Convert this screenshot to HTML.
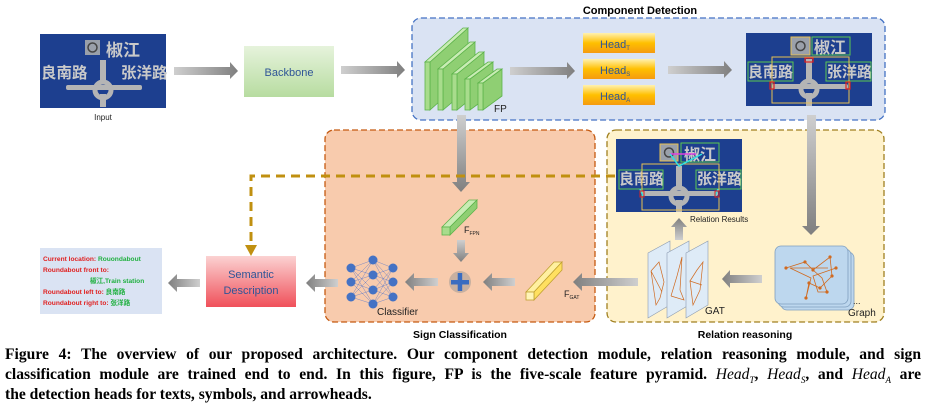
<!DOCTYPE html>
<html><head><meta charset="utf-8"><style>
html,body{margin:0;padding:0;background:#fff;}
svg{display:block;}
.cap{position:absolute;left:5px;width:916px;font-family:"Liberation Serif",serif;font-weight:bold;font-size:15.6px;color:#000;white-space:nowrap;}
.j{text-align:justify;text-align-last:justify;}
</style></head><body>
<div style="position:relative;width:926px;height:407px;overflow:hidden;">
<svg width="926" height="407" viewBox="0 0 926 407" xmlns="http://www.w3.org/2000/svg" style="position:absolute;left:0;top:0;font-family:'Liberation Sans','Noto Sans CJK SC',sans-serif;">
<defs>
<linearGradient id="gh" x1="0" y1="0" x2="1" y2="0"><stop offset="0" stop-color="#cfcfcf"/><stop offset="1" stop-color="#7f7f7f"/></linearGradient>
<linearGradient id="ghl" x1="1" y1="0" x2="0" y2="0"><stop offset="0" stop-color="#cfcfcf"/><stop offset="1" stop-color="#7f7f7f"/></linearGradient>
<linearGradient id="gv" x1="0" y1="0" x2="0" y2="1"><stop offset="0" stop-color="#cfcfcf"/><stop offset="1" stop-color="#7f7f7f"/></linearGradient>
<linearGradient id="gvu" x1="0" y1="1" x2="0" y2="0"><stop offset="0" stop-color="#cfcfcf"/><stop offset="1" stop-color="#7f7f7f"/></linearGradient>
<linearGradient id="gbb" x1="0" y1="0" x2="0" y2="1"><stop offset="0" stop-color="#e6f3dc"/><stop offset="1" stop-color="#b7dca0"/></linearGradient>
<linearGradient id="ghd" x1="0" y1="0" x2="0" y2="1"><stop offset="0" stop-color="#fff2b0"/><stop offset="0.5" stop-color="#ffc000"/><stop offset="1" stop-color="#f59a10"/></linearGradient>
<linearGradient id="gsd" x1="0" y1="0" x2="0" y2="1"><stop offset="0" stop-color="#fbd2d2"/><stop offset="1" stop-color="#f0505a"/></linearGradient>
</defs>

<rect x="412" y="18" width="473" height="102" rx="9" fill="#dae3f3" stroke="#4472c4" stroke-width="1.3" stroke-dasharray="6,3"/>
<rect x="325" y="130" width="270" height="192" rx="9" fill="#f8cbad" stroke="#c55a11" stroke-width="1.3" stroke-dasharray="6,3"/>
<rect x="607" y="130" width="277" height="192" rx="9" fill="#fff2cc" stroke="#a08020" stroke-width="1.3" stroke-dasharray="6,3"/>
<text x="640" y="14" font-size="11" font-weight="bold" text-anchor="middle">Component Detection</text>
<text x="460" y="338" font-size="10.5" font-weight="bold" text-anchor="middle">Sign Classification</text>
<text x="745" y="338" font-size="10.5" font-weight="bold" text-anchor="middle">Relation reasoning</text>

<g transform="translate(40,34)">
<rect width="126" height="74" fill="#1d3f8f"/>
<rect x="45" y="6" width="15" height="15" fill="#9aa0aa"/><circle cx="52.5" cy="13.5" r="4.5" fill="none" stroke="#444" stroke-width="1.5"/>
<text x="66" y="22" font-size="17" font-weight="bold" fill="#c9c9c9" font-family="'Noto Sans CJK SC',sans-serif">椒江</text>
<text x="1" y="44" font-size="15.5" font-weight="bold" fill="#c9c9c9" font-family="'Noto Sans CJK SC',sans-serif">良南路</text>
<text x="81" y="44" font-size="15.5" font-weight="bold" fill="#c9c9c9" font-family="'Noto Sans CJK SC',sans-serif">张洋路</text>
<rect x="60" y="26" width="6" height="22" fill="#b5b5b5"/>
<rect x="26" y="51" width="76" height="5" rx="2" fill="#b5b5b5"/>
<circle cx="63" cy="56" r="8" fill="none" stroke="#b5b5b5" stroke-width="5"/>
<rect x="60" y="60" width="6" height="13" fill="#b5b5b5"/>
</g>
<text x="103" y="120" font-size="8" text-anchor="middle" fill="#222">Input</text>

<g>
<polygon points="174,67 230,67 230,62 238,71 230,79 230,75 174,75" fill="url(#gh)"/>
<polygon points="341,66 397,66 397,61 405,70 397,78 397,74 341,74" fill="url(#gh)"/>
<polygon points="510,67 567,67 567,62 575,71 567,79 567,75 510,75" fill="url(#gh)"/>
<polygon points="668,66 724,66 724,61 732,70 724,78 724,74 668,74" fill="url(#gh)"/>
</g>

<rect x="244" y="46" width="90" height="51" fill="url(#gbb)"/>
<text x="289" y="76" font-size="11" text-anchor="middle" fill="#2f5597">Backbone</text>

<g stroke="#5cb34a" stroke-width="0.8">
<g><polygon points="430,62 468,28 468,76 430,110" fill="#8fcf73"/><polygon points="425,62 430,62 468,28 463,28" fill="#c9ecb4"/><rect x="425" y="62" width="5" height="48" fill="#a8dc8c"/></g>
<g><polygon points="443,69 475,42 475,83 443,110" fill="#8fcf73"/><polygon points="438,69 443,69 475,42 470,42" fill="#c9ecb4"/><rect x="438" y="69" width="5" height="41" fill="#a8dc8c"/></g>
<g><polygon points="457,74 484,52 484,88 457,110" fill="#8fcf73"/><polygon points="452,74 457,74 484,52 479,52" fill="#c9ecb4"/><rect x="452" y="74" width="5" height="36" fill="#a8dc8c"/></g>
<g><polygon points="470,79 493,62 493,93 470,110" fill="#8fcf73"/><polygon points="465,79 470,79 493,62 488,62" fill="#c9ecb4"/><rect x="465" y="79" width="5" height="31" fill="#a8dc8c"/></g>
<g><polygon points="483,83 502,69 502,96 483,110" fill="#8fcf73"/><polygon points="478,83 483,83 502,69 497,69" fill="#c9ecb4"/><rect x="478" y="83" width="5" height="27" fill="#a8dc8c"/></g>
</g>
<text x="494" y="112" font-size="10" fill="#222">FP</text>

<rect x="583" y="33" width="72" height="20" fill="url(#ghd)"/>
<rect x="583" y="59" width="72" height="20" fill="url(#ghd)"/>
<rect x="583" y="85" width="72" height="20" fill="url(#ghd)"/>
<text x="600" y="48" font-size="11" fill="#2f5597">Head<tspan font-size="6" dy="2">T</tspan></text>
<text x="600" y="74" font-size="11" fill="#2f5597">Head<tspan font-size="6" dy="2">S</tspan></text>
<text x="600" y="100" font-size="11" fill="#2f5597">Head<tspan font-size="6" dy="2">A</tspan></text>

<g transform="translate(746,33)">
<rect width="126" height="73" fill="#1d3f8f"/>
<rect x="45" y="4" width="19" height="18" fill="#9aa0aa" stroke="#e8c050" stroke-width="1"/><circle cx="54.5" cy="13" r="4.5" fill="none" stroke="#444" stroke-width="1.5"/>
<text x="68" y="20" font-size="16" font-weight="bold" fill="#c9c9c9" font-family="'Noto Sans CJK SC',sans-serif">椒江</text>
<rect x="66" y="4" width="38" height="18" fill="none" stroke="#5ac850" stroke-width="1"/>
<text x="2" y="44" font-size="15" font-weight="bold" fill="#c9c9c9" font-family="'Noto Sans CJK SC',sans-serif">良南路</text>
<rect x="2" y="29" width="45" height="19" fill="none" stroke="#5ac850" stroke-width="1"/>
<text x="81" y="44" font-size="15" font-weight="bold" fill="#c9c9c9" font-family="'Noto Sans CJK SC',sans-serif">张洋路</text>
<rect x="80" y="29" width="45" height="19" fill="none" stroke="#5ac850" stroke-width="1"/>
<rect x="60" y="26" width="6" height="22" fill="#b5b5b5"/>
<rect x="26" y="51" width="76" height="5" rx="2" fill="#b5b5b5"/>
<circle cx="63" cy="56" r="8" fill="none" stroke="#b5b5b5" stroke-width="5"/>
<rect x="60" y="60" width="6" height="13" fill="#b5b5b5"/>
<rect x="26" y="24" width="77" height="46" fill="none" stroke="#e8c050" stroke-width="1"/>
<rect x="59" y="25" width="8" height="4" fill="none" stroke="#e02020" stroke-width="1.2"/>
<rect x="24" y="49" width="4" height="7" fill="none" stroke="#e02020" stroke-width="1.2"/>
<rect x="100" y="49" width="4" height="7" fill="none" stroke="#e02020" stroke-width="1.2"/>
</g>

<polygon points="457,115 466,115 466,182 470,182 461,192 452,182 457,182" fill="url(#gv)"/>
<polygon points="807,115 816,115 816,226 820,226 811,235 802,226 807,226" fill="url(#gv)"/>
<polygon points="457,240 465,240 465,253 469,253 461,262 453,253 457,253" fill="url(#gv)"/>
<polygon points="675,240 683,240 683,227 687,227 679,218 671,227 675,227" fill="url(#gvu)"/>

<polyline points="615,176 251,176 251,246" fill="none" stroke="#c09010" stroke-width="3" stroke-dasharray="9,6"/>
<polygon points="245,245 257,245 251,256" fill="#c09010"/>

<g transform="translate(616,139)">
<rect width="126" height="73" fill="#1d3f8f"/>
<rect x="44" y="5" width="18" height="17" fill="#9aa0aa" stroke="#e8c050" stroke-width="1"/><circle cx="53" cy="13.5" r="4.5" fill="none" stroke="#444" stroke-width="1.5"/>
<text x="68" y="21" font-size="16" font-weight="bold" fill="#c9c9c9" font-family="'Noto Sans CJK SC',sans-serif">椒江</text>
<rect x="65" y="4" width="38" height="19" fill="none" stroke="#5ac850" stroke-width="1"/>
<text x="3" y="45" font-size="15" font-weight="bold" fill="#c9c9c9" font-family="'Noto Sans CJK SC',sans-serif">良南路</text>
<rect x="3" y="31" width="44" height="19" fill="none" stroke="#5ac850" stroke-width="1"/>
<text x="81" y="45" font-size="15" font-weight="bold" fill="#c9c9c9" font-family="'Noto Sans CJK SC',sans-serif">张洋路</text>
<rect x="80" y="31" width="45" height="19" fill="none" stroke="#5ac850" stroke-width="1"/>
<rect x="60" y="27" width="6" height="22" fill="#b5b5b5"/>
<rect x="26" y="52" width="76" height="5" rx="2" fill="#b5b5b5"/>
<circle cx="63" cy="57" r="8" fill="none" stroke="#b5b5b5" stroke-width="5"/>
<rect x="60" y="61" width="6" height="12" fill="#b5b5b5"/>
<rect x="26" y="25" width="77" height="46" fill="none" stroke="#e8c050" stroke-width="1"/>
<line x1="54" y1="15" x2="80" y2="15" stroke="#e040e0" stroke-width="1.5"/>
<polyline points="54,15 63,27 86,15" fill="none" stroke="#30e0e0" stroke-width="1.5"/>
<line x1="24" y1="50" x2="27" y2="57" stroke="#30e0e0" stroke-width="1.5"/>
<line x1="102" y1="50" x2="99" y2="57" stroke="#30e0e0" stroke-width="1.5"/>
<rect x="24" y="52" width="4" height="6" fill="none" stroke="#e02020" stroke-width="1"/>
<rect x="99" y="52" width="4" height="6" fill="none" stroke="#e02020" stroke-width="1"/>
</g>
<text x="690" y="222" font-size="8" fill="#222">Relation Results</text>

<rect x="781" y="252" width="73" height="58" rx="6" fill="#bdd7ee" stroke="#7f9fbf" stroke-width="0.8"/>
<rect x="778" y="249" width="73" height="58" rx="6" fill="#bdd7ee" stroke="#7f9fbf" stroke-width="0.8"/>
<rect x="775" y="246" width="73" height="58" rx="6" fill="#bdd7ee" stroke="#7f9fbf" stroke-width="0.8"/>
<g stroke="#d06a20" stroke-width="0.8" fill="none">
<polyline points="786,268 805,262 813,270 830,257 832,276 820,288 809,283 806,298 811,278 790,268 828,268"/>
<polyline points="813,270 822,278 827,292 818,292 813,276 836,268"/>
</g>
<g fill="#d06a20"><circle cx="786" cy="268" r="1.6"/><circle cx="805" cy="262" r="1.6"/><circle cx="813" cy="270" r="1.6"/><circle cx="830" cy="257" r="1.6"/><circle cx="832" cy="276" r="1.6"/><circle cx="820" cy="288" r="1.6"/><circle cx="809" cy="283" r="1.6"/><circle cx="806" cy="298" r="1.6"/><circle cx="827" cy="292" r="1.6"/><circle cx="836" cy="268" r="1.6"/></g>
<text x="853" y="304" font-size="9" fill="#222">...</text>
<text x="848" y="316" font-size="10" fill="#222">Graph</text>

<g stroke="#8a9ab0" stroke-width="0.6" fill="#deebf7">
<polygon points="648,253 670,241 670,305 648,318"/>
<polygon points="667,253 689,241 689,305 667,318"/>
<polygon points="686,253 708,241 708,305 686,318"/>
</g>
<g stroke="#d06a20" stroke-width="0.7" fill="none">
<polyline points="651,271 659,262 664,282 660,298 656,305 651,271 662,292"/>
<polyline points="671,296 677,276 682,257 680,290 684,300 671,296"/>
<polyline points="690,281 697,270 703,262 700,290 693,305 690,281 702,285"/>
</g>
<text x="705" y="314" font-size="10" fill="#222">GAT</text>

<polygon points="762,275 730,275 730,270 722,279 730,288 730,283 762,283" fill="url(#ghl)"/>
<polygon points="638,278 582,278 582,273 573,282 582,291 582,286 638,286" fill="url(#ghl)"/>
<polygon points="515,278 492,278 492,273 483,282 492,291 492,286 515,286" fill="url(#ghl)"/>
<polygon points="438,278 414,278 414,273 405,282 414,291 414,286 438,286" fill="url(#ghl)"/>
<polygon points="338,279 315,279 315,274 306,283 315,292 315,287 338,287" fill="url(#ghl)"/>
<polygon points="200,279 177,279 177,274 168,283 177,292 177,287 200,287" fill="url(#ghl)"/>

<g stroke="#c0a030" stroke-width="0.8">
<polygon points="526,292 554,262 562,262 534,292" fill="#fff0a0"/>
<polygon points="534,292 562,262 562,270 534,300" fill="#ffe060"/>
<rect x="526" y="292" width="8" height="8" fill="#fff4b8"/>
</g>
<text x="564" y="297" font-size="9" fill="#222">F<tspan font-size="5" dy="2">GAT</tspan></text>

<g stroke="#5cb34a" stroke-width="0.8">
<polygon points="442,227 469,200 477,200 450,227" fill="#c9ecb4"/>
<polygon points="450,227 477,200 477,208 450,235" fill="#8fcf73"/>
<rect x="442" y="227" width="8" height="8" fill="#a8dc8c"/>
</g>
<text x="464" y="233" font-size="9" fill="#222">F<tspan font-size="5" dy="2">FPN</tspan></text>

<circle cx="460" cy="282" r="11" fill="#c8b0a0"/>
<rect x="451" y="280" width="18" height="4.5" fill="#3a6cc0"/>
<rect x="457.7" y="273" width="4.5" height="18" fill="#3a6cc0"/>

<g stroke="#5a78c8" stroke-width="0.4">
<line x1="351" y1="268" x2="373" y2="260"/><line x1="351" y1="268" x2="373" y2="275"/><line x1="351" y1="268" x2="373" y2="290"/><line x1="351" y1="268" x2="373" y2="304"/>
<line x1="351" y1="282" x2="373" y2="260"/><line x1="351" y1="282" x2="373" y2="275"/><line x1="351" y1="282" x2="373" y2="290"/><line x1="351" y1="282" x2="373" y2="304"/>
<line x1="351" y1="297" x2="373" y2="260"/><line x1="351" y1="297" x2="373" y2="275"/><line x1="351" y1="297" x2="373" y2="290"/><line x1="351" y1="297" x2="373" y2="304"/>
<line x1="393" y1="268" x2="373" y2="260"/><line x1="393" y1="268" x2="373" y2="275"/><line x1="393" y1="268" x2="373" y2="290"/><line x1="393" y1="268" x2="373" y2="304"/>
<line x1="393" y1="282" x2="373" y2="260"/><line x1="393" y1="282" x2="373" y2="275"/><line x1="393" y1="282" x2="373" y2="290"/><line x1="393" y1="282" x2="373" y2="304"/>
<line x1="393" y1="297" x2="373" y2="260"/><line x1="393" y1="297" x2="373" y2="275"/><line x1="393" y1="297" x2="373" y2="290"/><line x1="393" y1="297" x2="373" y2="304"/>
</g>
<g fill="#4472c4">
<circle cx="351" cy="268" r="4.5"/><circle cx="351" cy="282" r="4.5"/><circle cx="351" cy="297" r="4.5"/>
<circle cx="373" cy="260" r="4.5"/><circle cx="373" cy="275" r="4.5"/><circle cx="373" cy="290" r="4.5"/><circle cx="373" cy="304" r="4.5"/>
<circle cx="393" cy="268" r="4.5"/><circle cx="393" cy="282" r="4.5"/><circle cx="393" cy="297" r="4.5"/>
</g>
<text x="377" y="315" font-size="10" fill="#222">Classifier</text>

<rect x="206" y="256" width="90" height="51" fill="url(#gsd)"/>
<text x="251" y="278" font-size="11" text-anchor="middle" fill="#2f5597">Semantic</text>
<text x="251" y="294" font-size="11" text-anchor="middle" fill="#2f5597">Description</text>

<rect x="40" y="248" width="122" height="66" fill="#dae3f3"/>
<g font-size="6.6" font-weight="bold" font-family="'Liberation Sans','Noto Sans CJK SC',sans-serif">
<text x="43" y="261" fill="#e02020">Current location: <tspan fill="#20b040">Rouondabout</tspan></text>
<text x="43" y="272" fill="#e02020">Roundabout front to:</text>
<text x="90" y="283" fill="#20b040">椒江,Train station</text>
<text x="43" y="294" fill="#e02020">Roundabout left to: <tspan fill="#20b040">良南路</tspan></text>
<text x="43" y="305" fill="#e02020">Roundabout right to: <tspan fill="#20b040">张洋路</tspan></text>
</g>
</svg>
<div class="cap j" style="top:346px;">Figure 4: The overview of our proposed architecture. Our component detection module, relation reasoning module, and sign</div>
<div class="cap j" style="top:366px;">classification module are trained end to end. In this figure, FP is the five-scale feature pyramid. <i style="font-weight:normal">Head<sub style="font-size:9px">T</sub></i>, <i style="font-weight:normal">Head<sub style="font-size:9px">S</sub></i>, and <i style="font-weight:normal">Head<sub style="font-size:9px">A</sub></i> are</div>
<div class="cap" style="top:386px;">the detection heads for texts, symbols, and arrowheads.</div>
</div>
</body></html>
